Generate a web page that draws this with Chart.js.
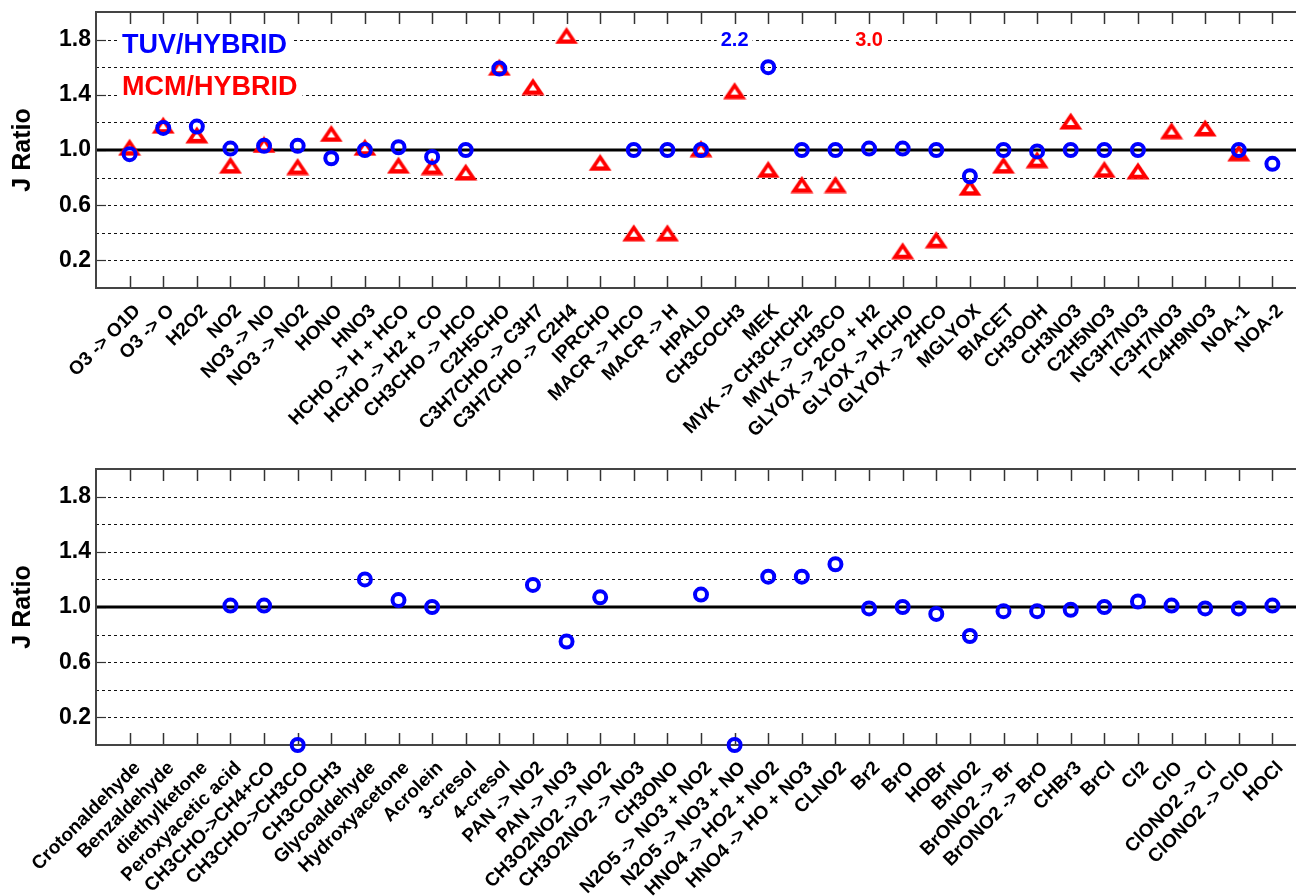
<!DOCTYPE html>
<html>
<head>
<meta charset="utf-8">
<script src="https://cdn.jsdelivr.net/npm/chart.js@4/dist/chart.umd.min.js"></script>
<style>
  html, body { margin: 0; padding: 0; background: #fff; overflow: hidden; width: 1296px; height: 896px; }
  canvas { position: absolute; left: 0; }
  #upper { top: 0; }
  #lower { top: 457px; }
</style>
</head>
<body>
<canvas id="upper" width="1306" height="450"></canvas>
<canvas id="lower" width="1306" height="439"></canvas>
<script>
// Photolysis reactions, upper panel
const upperLabels = [
  'O3 -> O1D', 'O3 -> O', 'H2O2', 'NO2', 'NO3 -> NO', 'NO3 -> NO2', 'HONO', 'HNO3',
  'HCHO -> H + HCO', 'HCHO -> H2 + CO', 'CH3CHO -> HCO', 'C2H5CHO', 'C3H7CHO -> C3H7',
  'C3H7CHO -> C2H4', 'IPRCHO', 'MACR -> HCO', 'MACR -> H', 'HPALD', 'CH3COCH3', 'MEK',
  'MVK -> CH3CHCH2', 'MVK -> CH3CO', 'GLYOX -> 2CO + H2', 'GLYOX -> HCHO', 'GLYOX -> 2HCO',
  'MGLYOX', 'BIACET', 'CH3OOH', 'CH3NO3', 'C2H5NO3', 'NC3H7NO3', 'IC3H7NO3', 'TC4H9NO3',
  'NOA-1', 'NOA-2'
];
// TUV / HYBRID ratios, upper panel (null = not available)
const upperTuv = [
  0.97, 1.16, 1.17, 1.01, 1.03, 1.03, 0.94, 1.00, 1.02, 0.95,
  1.00, 1.59, null, null, null, 1.00, 1.00, 1.00, 2.2, 1.60,
  1.00, 1.00, 1.01, 1.01, 1.00, 0.81, 1.00, 0.99, 1.00, 1.00,
  1.00, null, null, 1.00, 0.90
];
// MCM / HYBRID ratios, upper panel
const upperMcm = [
  1.02, 1.18, 1.11, 0.89, 1.04, 0.88, 1.12, 1.02, 0.89, 0.88,
  0.84, 1.60, 1.46, 1.83, 0.91, 0.40, 0.40, 1.01, 1.43, 0.86,
  0.75, 0.75, 3.0, 0.27, 0.35, 0.73, 0.89, 0.93, 1.21, 0.86,
  0.85, 1.14, 1.16, 0.98, null
];
// Photolysis reactions, lower panel
const lowerLabels = [
  'Crotonaldehyde', 'Benzaldehyde', 'diethylketone', 'Peroxyacetic acid', 'CH3CHO->CH4+CO',
  'CH3CHO->CH3CO', 'CH3COCH3', 'Glycoaldehyde', 'Hydroxyacetone', 'Acrolein', '3-cresol',
  '4-cresol', 'PAN -> NO2', 'PAN -> NO3', 'CH3O2NO2 -> NO2', 'CH3O2NO2 -> NO3', 'CH3ONO',
  'N2O5 -> NO3 + NO2', 'N2O5 -> NO3 + NO', 'HNO4 -> HO2 + NO2', 'HNO4 -> HO + NO3', 'CLNO2',
  'Br2', 'BrO', 'HOBr', 'BrNO2', 'BrONO2 -> Br', 'BrONO2 -> BrO', 'CHBr3', 'BrCl', 'Cl2',
  'ClO', 'ClONO2 -> Cl', 'ClONO2 -> ClO', 'HOCl'
];
// TUV / HYBRID ratios, lower panel
const lowerTuv = [
  null, null, null, 1.01, 1.01, 0.00, null, 1.20, 1.05, 1.00,
  null, null, 1.16, 0.75, 1.07, null, null, 1.09, 0.00, 1.22,
  1.22, 1.31, 0.99, 1.00, 0.95, 0.79, 0.97, 0.97, 0.98, 1.00,
  1.04, 1.01, 0.99, 0.99, 1.01
];
// Labelled y values and axis range
const yLabelled = [0.2, 0.6, 1.0, 1.4, 1.8];
const yMin = 0, yMax = 2.0, yStep = 0.2;

const FONT = "'Liberation Sans', Arial, sans-serif";
const BLUE = '#0000ff';
const RED = '#ff0000';

// Hollow red triangle marker, centred on its bounding box
function triangleMarker(color) {
  const c = document.createElement('canvas');
  c.width = 24; c.height = 18;
  const g = c.getContext('2d');
  g.fillStyle = color;
  g.beginPath(); g.moveTo(12, 0.5); g.lineTo(23.5, 17.5); g.lineTo(0.5, 17.5); g.closePath(); g.fill();
  g.fillStyle = '#fff';
  g.beginPath(); g.moveTo(12, 7); g.lineTo(16, 13); g.lineTo(8, 13); g.closePath(); g.fill();
  return c;
}
const tri = triangleMarker(RED);

// pad with empty end slots so the reactions sit at positions 1..N
const padLabels = l => ['', ...l, ''];
const padData = d => [null, ...d, null];

const framePlugin = {
  id: 'frame',
  beforeDatasetsDraw(chart) {
    const { ctx, chartArea: a, scales: { x, y } } = chart;
    ctx.save();
    // dashed grid every 0.2
    ctx.strokeStyle = '#111';
    ctx.lineWidth = 1;
    ctx.setLineDash([3, 3]);
    for (let k = 1; k < Math.round((yMax - yMin) / yStep); k++) {
      const v = yMin + k * yStep;
      if (Math.abs(v - 1) < 1e-9) continue;
      const py = Math.round(y.getPixelForValue(v)) + 0.5;
      ctx.beginPath(); ctx.moveTo(a.left, py); ctx.lineTo(a.right, py); ctx.stroke();
    }
    ctx.setLineDash([]);
    // short solid ticks at labelled values
    ctx.strokeStyle = '#333';
    ctx.lineWidth = 1.2;
    yLabelled.forEach(v => {
      const py = Math.round(y.getPixelForValue(v)) + 0.5;
      ctx.beginPath(); ctx.moveTo(a.left, py); ctx.lineTo(a.left + 10, py); ctx.stroke();
    });
    // unity line
    ctx.strokeStyle = '#000';
    ctx.lineWidth = 3;
    const p1 = y.getPixelForValue(1.0);
    ctx.beginPath(); ctx.moveTo(a.left, p1); ctx.lineTo(a.right, p1); ctx.stroke();
    // category ticks, top and bottom, pointing inward
    ctx.strokeStyle = '#333';
    ctx.lineWidth = 1.5;
    for (let i = 1; i < x.ticks.length - 1; i++) {
      const px = Math.round(x.getPixelForTick(i)) + 0.5;
      ctx.beginPath(); ctx.moveTo(px, a.top); ctx.lineTo(px, a.top + 12); ctx.stroke();
      ctx.beginPath(); ctx.moveTo(px, a.bottom); ctx.lineTo(px, a.bottom - 12); ctx.stroke();
    }
    // plot frame
    ctx.strokeStyle = '#444';
    ctx.lineWidth = 2;
    ctx.strokeRect(a.left, a.top, a.right - a.left, a.bottom - a.top);
    ctx.restore();
  },
  afterDatasetsDraw(chart, args, opts) {
    const { ctx, chartArea: a, scales: { x, y } } = chart;
    ctx.save();
    // values beyond the top of the axis, written at the 1.8 line
    ctx.font = 'bold 20px ' + FONT;
    ctx.textAlign = 'center';
    ctx.textBaseline = 'middle';
    chart.data.datasets.forEach(ds => {
      ds.data.forEach((v, i) => {
        if (v !== null && v > yMax) {
          const txt = v.toFixed(1);
          const px = x.getPixelForValue(i);
          const py = y.getPixelForValue(1.8) + 1;
          const w = ctx.measureText(txt).width;
          ctx.fillStyle = '#fff';
          ctx.fillRect(px - w / 2 - 4, py - 10, w + 8, 20);
          ctx.fillStyle = ds.textColor;
          ctx.fillText(txt, px, py);
        }
      });
    });
    // series names
    (opts.notes || []).forEach(n => {
      ctx.font = 'bold 27px ' + FONT;
      ctx.textAlign = 'left';
      ctx.textBaseline = 'middle';
      const w = ctx.measureText(n.text).width;
      const tx = a.left + 26, ty = a.top + n.dy;
      ctx.fillStyle = '#fff';
      ctx.fillRect(tx - 5, ty - 13, w + 10, 26);
      ctx.fillStyle = n.color;
      ctx.fillText(n.text, tx, ty + 1);
    });
    ctx.restore();
  }
};

function makeChart(id, labels, datasets, notes) {
  const canvas = document.getElementById(id);
  const H = canvas.height;
  return new Chart(canvas, {
    type: 'line',
    data: { labels: padLabels(labels), datasets },
    options: {
      responsive: false,
      animation: false,
      events: [],
      layout: { padding: { top: 12, left: 0, right: 0, bottom: 0 }, autoPadding: false },
      plugins: {
        legend: { display: false },
        tooltip: { enabled: false },
        frame: { notes }
      },
      scales: {
        x: {
          type: 'category',
          offset: false,
          grid: { display: false, drawTicks: false },
          border: { display: false },
          ticks: {
            autoSkip: false,
            maxRotation: 45,
            minRotation: 45,
            labelOffset: 8,
            padding: 12,
            color: '#000',
            font: { family: FONT, size: 19, weight: 'bold' }
          },
          afterFit(s) {
            s.height = H - 288;
            s.paddingLeft = 0; s.paddingRight = 0;
          }
        },
        y: {
          min: yMin,
          max: yMax,
          grid: { display: false, drawTicks: false },
          border: { display: false },
          ticks: {
            stepSize: yStep,
            autoSkip: false,
            padding: 5,
            color: '#000',
            font: { family: FONT, size: 23, weight: 'bold' },
            callback(v) {
              const n = Math.round(v * 10);
              return yLabelled.some(t => Math.round(t * 10) === n) ? (n / 10).toFixed(1) : '';
            }
          },
          title: {
            display: true,
            text: 'J Ratio',
            color: '#000',
            font: { family: FONT, size: 25, weight: 'bold' },
            padding: { top: 8, bottom: 0 }
          },
          afterFit(s) {
            s.width = 96;
            s.paddingTop = 0; s.paddingBottom = 0;
          }
        }
      }
    },
    plugins: [framePlugin]
  });
}

const circleStyle = {
  showLine: false,
  clip: false,
  pointStyle: 'circle',
  pointRadius: 6,
  pointBorderWidth: 4,
  pointBorderColor: BLUE,
  pointBackgroundColor: 'rgba(0,0,0,0)',
  borderColor: BLUE,
  textColor: BLUE
};
const triangleStyle = {
  showLine: false,
  clip: false,
  pointStyle: tri,
  pointRadius: 9,
  borderColor: RED,
  textColor: RED
};

makeChart('upper', upperLabels, [
  Object.assign({ label: 'TUV/HYBRID', data: padData(upperTuv) }, circleStyle),
  Object.assign({ label: 'MCM/HYBRID', data: padData(upperMcm) }, triangleStyle)
], [
  { text: 'TUV/HYBRID', color: BLUE, dy: 33 },
  { text: 'MCM/HYBRID', color: RED, dy: 75 }
]);

makeChart('lower', lowerLabels, [
  Object.assign({ label: 'TUV/HYBRID', data: padData(lowerTuv) }, circleStyle)
], []);
</script>
</body>
</html>
